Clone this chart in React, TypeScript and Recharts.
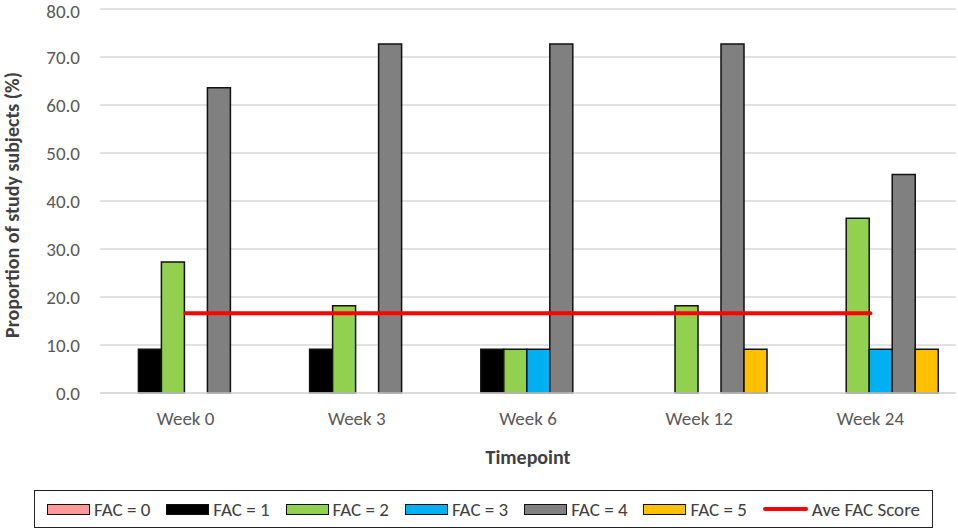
import { Bar, Line, ComposedChart, XAxis, YAxis, CartesianGrid, Legend } from "recharts"

const weeks = ["Week 0", "Week 3", "Week 6", "Week 12", "Week 24"]
const fac0 = [0, 0, 0, 0, 0]
const fac1 = [9.1, 9.1, 9.1, 0, 0]
const fac2 = [27.3, 18.2, 9.1, 18.2, 36.4]
const fac3 = [0, 0, 9.1, 0, 9.1]
const fac4 = [63.6, 72.7, 72.7, 72.7, 45.5]
const fac5 = [0, 0, 0, 9.1, 9.1]
const aveFac = [16.6, 16.6, 16.6, 16.6, 16.6]
const yTicks = [0, 10, 20, 30, 40, 50, 60, 70, 80]

const FONT = "Carlito, Lato, sans-serif"

const series = [
  { key: "fac0", name: "FAC = 0", color: "#FF9999" },
  { key: "fac1", name: "FAC = 1", color: "#000000" },
  { key: "fac2", name: "FAC = 2", color: "#92D050" },
  { key: "fac3", name: "FAC = 3", color: "#00B0F0" },
  { key: "fac4", name: "FAC = 4", color: "#808080" },
  { key: "fac5", name: "FAC = 5", color: "#FFC000" },
]

const data = weeks.map((w, i) => ({
  week: w,
  fac0: fac0[i],
  fac1: fac1[i],
  fac2: fac2[i],
  fac3: fac3[i],
  fac4: fac4[i],
  fac5: fac5[i],
  ave: aveFac[i],
}))

// rotated y-axis title, centred on the plot's height
function YTitle(props: any) {
  const vb = props.viewBox || {}
  const cx = 12
  const cy = (vb.y ?? 0) + (vb.height ?? 0) / 2 + 4
  return (
    <text
      x={cx}
      y={cy}
      transform={`rotate(-90 ${cx} ${cy})`}
      textAnchor="middle"
      dominantBaseline="central"
      style={{ fontSize: 20, fontWeight: 700, fill: "#404040", fontFamily: FONT }}
    >
      Proportion of study subjects (%)
    </text>
  )
}

function LegendBox() {
  return (
    <div
      style={{
        marginLeft: 34,
        width: 885,
        height: 36,
        border: "1.5px solid #222",
        display: "flex",
        alignItems: "center",
        paddingLeft: 12,
        boxSizing: "content-box",
        fontFamily: FONT,
        fontSize: 19,
        color: "#404040",
      }}
    >
      {series.map((s) => (
        <div key={s.key} style={{ width: 119.3, display: "flex", alignItems: "center", flexShrink: 0 }}>
          <span
            style={{
              width: 41,
              height: 9,
              background: s.color,
              border: "1.5px solid #111",
              marginRight: 4,
              display: "inline-block",
            }}
          />
          <span>{s.name}</span>
        </div>
      ))}
      <div style={{ display: "flex", alignItems: "center" }}>
        <span
          style={{
            width: 45,
            height: 4,
            background: "#FF0000",
            borderRadius: 2,
            marginRight: 4,
            display: "inline-block",
          }}
        />
        <span>Ave FAC Score</span>
      </div>
    </div>
  )
}

export default function App() {
  return (
    <div style={{ position: "absolute", left: 0, top: 0, width: 958, height: 530, background: "#fff" }}>
      <ComposedChart
        width={958}
        height={530}
        data={data}
        margin={{ top: 9, right: 2, left: 0, bottom: 2 }}
        barCategoryGap="9%"
        barGap={0}
      >
        <CartesianGrid vertical={false} stroke="#d9d9d9" strokeWidth={1.5} />
        <XAxis
          dataKey="week"
          height={97}
          tickLine={false}
          axisLine={{ stroke: "#d9d9d9", strokeWidth: 1.5 }}
          tick={{ fontSize: 19, fill: "#595959", fontFamily: FONT }}
          tickMargin={13}
          label={{
            value: "Timepoint",
            position: "insideBottom",
            offset: 26,
            style: { fontSize: 20, fontWeight: 700, fill: "#404040", fontFamily: FONT },
          }}
        />
        <YAxis
          width={100}
          domain={[0, 80]}
          ticks={yTicks}
          tickFormatter={(v) => Number(v).toFixed(1)}
          axisLine={false}
          tickLine={false}
          tickMargin={14}
          tick={{ fontSize: 19, fill: "#595959", fontFamily: FONT }}
          label={<YTitle />}
        />
        {series.map((s) => (
          <Bar
            key={s.key}
            dataKey={s.key}
            name={s.name}
            fill={s.color}
            stroke="#111"
            strokeWidth={1.5}
            isAnimationActive={false}
          />
        ))}
        <Line
          dataKey="ave"
          name="Ave FAC Score"
          stroke="#FF0000"
          strokeWidth={4}
          strokeLinecap="round"
          dot={false}
          activeDot={false}
          isAnimationActive={false}
        />
        <Legend verticalAlign="bottom" wrapperStyle={{ left: 0, width: 958 }} content={() => <LegendBox />} />
      </ComposedChart>
    </div>
  )
}
